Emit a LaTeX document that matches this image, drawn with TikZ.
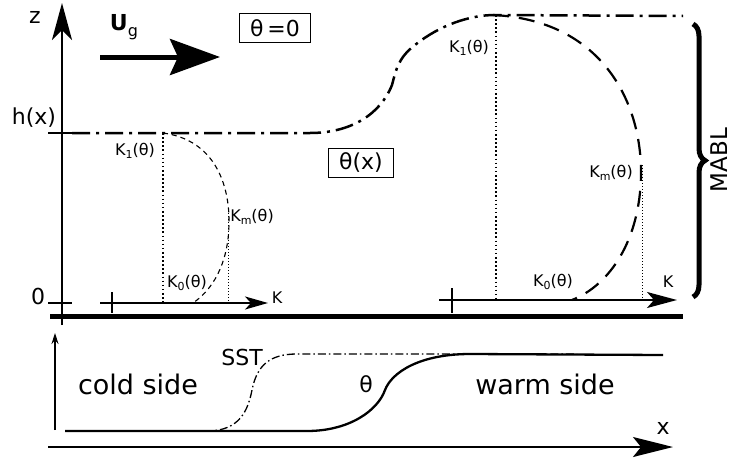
\documentclass[tikz,border=0pt]{standalone}
\usepackage{fontspec}
\setmainfont{DejaVu Sans}
\usetikzlibrary{arrows.meta,decorations.pathreplacing}
\newcommand{\ksub}[1]{K\raisebox{-0.35ex}{\fontsize{11}{11}\selectfont #1}(θ)}

\begin{document}
\begin{tikzpicture}[x=1pt,y=-1pt,
  dashdot/.style={line width=2.5pt, dash pattern=on 18pt off 6pt on 3pt off 6pt},
  profile/.style={line width=2.2pt, dash pattern=on 16pt off 10pt},
  dotline/.style={line width=1.6pt, dash pattern=on 1.6pt off 2.5pt},
  klabel/.style={font=\fontsize{16}{19}\selectfont, inner sep=0pt},
  tlabel/.style={font=\fontsize{22}{26}\selectfont, inner sep=0pt},
  side/.style={font=\fontsize{27}{32}\selectfont, inner sep=0pt},
  tbox/.style={draw, line width=1pt, font=\fontsize{22}{26}\selectfont, inner xsep=11pt, inner ysep=0pt, minimum height=29pt}]
\useasboundingbox (0,0) rectangle (733,466);
% upper panel: z axis and ground
\coordinate (zbot) at (62,325);
\coordinate (ztop) at (62,3);
\draw[line width=2.6pt, -{Stealth[length=37pt,width=20pt,inset=10pt]}] (zbot) -- (ztop);
\coordinate (gl) at (50,316);
\coordinate (gr) at (683,316);
\draw[line width=5pt] (gl) -- (gr);
\draw[line width=1.8pt] (48,303) -- (72,303) (48,133) -- (72,133);
\node[tlabel] (zlab) at (35,17) {z};
\node[tlabel] (zero) at (38,296) {0};
\node[tlabel] (hx) at (34,118) {h(x)};
% geostrophic wind
\node[tlabel] (ug) at (124,27) {\textbf{U}\raisebox{-0.45ex}{\fontsize{16}{16}\selectfont g}};
\coordinate (ua) at (100,57);
\coordinate (ub) at (220,57);
\draw[line width=5pt, -{Stealth[length=50pt,width=36pt,inset=8pt]}] (ua) -- (ub);
\node[tbox] (th0) at (275,28) {θ\,=0};
\node[tbox] (thx) at (361,163) {θ(x)};
% boundary layer top h(x)
\draw[dashdot] (72,133) -- (310,133) .. controls (350,133) and (380,115) .. (392,85)
  .. controls (396,70) and (398,58) .. (415,45) .. controls (440,25) and (470,15) .. (495,15) -- (683,16);
% cold side profile
\coordinate (ka) at (100,303);
\coordinate (kb) at (268,303);
\draw[line width=1.8pt, -{Stealth[length=23pt,width=13pt,inset=6pt]}] (ka) -- (kb);
\draw[line width=1.8pt] (112,292) -- (112,313);
\draw[dotline] (163,133) -- (163,303);
\draw[line width=1pt, dash pattern=on 1pt off 2pt] (228,213) -- (228,303);
\draw[line width=1.1pt, dash pattern=on 5pt off 4pt] (163,133) .. controls (215,140) and (230,185) .. (229,225)
  .. controls (228,265) and (212,290) .. (193,303);
\node[klabel] (k1a) at (135,151) {\ksub{1}};
\node[klabel] (kma) at (252,217) {\ksub{m}};
\node[klabel] (k0a) at (187,283) {\ksub{0}};
\node[klabel] (ka) at (277,298) {K};
% warm side profile
\coordinate (kc) at (439,300);
\coordinate (kd) at (677,300);
\draw[line width=1.8pt, -{Stealth[length=30pt,width=16pt,inset=7pt]}] (kc) -- (kd);
\draw[line width=1.8pt] (452,288) -- (452,313);
\draw[dotline] (496,15) -- (496,300);
\draw[line width=1pt, dash pattern=on 1pt off 2pt] (642,165) -- (642,300);
\draw[profile] (493,15) .. controls (600,20) and (642,100) .. (641,175)
  .. controls (640,240) and (610,285) .. (572,300);
\node[klabel] (k1b) at (469,48) {\ksub{1}};
\node[klabel] (kmb) at (611,173) {\ksub{m}};
\node[klabel] (k0b) at (553,282) {\ksub{0}};
\node[klabel] (kb) at (668,282) {K};
% marine atmospheric boundary layer
\draw[decorate, decoration={brace, amplitude=12pt}, line width=5pt] (693,24) -- (693,297);
\node[tlabel, font=\fontsize{23}{27}\selectfont, rotate=90] (mabl) at (719,160) {MABL};
% lower panel: SST and theta along x
\coordinate (ya) at (55,430);
\coordinate (yb) at (55,333);
\draw[line width=1.2pt, -{Stealth[length=11pt,width=7pt]}] (ya) -- (yb);
\coordinate (xa) at (48,447);
\coordinate (xb) at (673,447);
\draw[line width=2pt, -{Stealth[length=40pt,width=20pt,inset=8pt]}] (xa) -- (xb);
\node[tlabel] (xlab) at (663,428) {x};
\draw[line width=1.3pt, dash pattern=on 8pt off 3pt on 1.5pt off 3pt] (65,431) -- (207,431)
  .. controls (240,431) and (248,410) .. (252,390) .. controls (257,365) and (270,354) .. (297,354) -- (577,354);
\draw[line width=2.3pt] (65,431) -- (307,431) .. controls (350,431) and (378,410) .. (385,390)
  .. controls (392,372) and (420,354) .. (470,354) -- (663,355);
\node[tlabel] (sst) at (242,357) {SST};
\node[tlabel] (thlab) at (366,384) {θ};
\node[side] (cold) at (138,384) {cold side};
\node[side] (warm) at (545,384) {warm side};
\end{tikzpicture}
\end{document}
